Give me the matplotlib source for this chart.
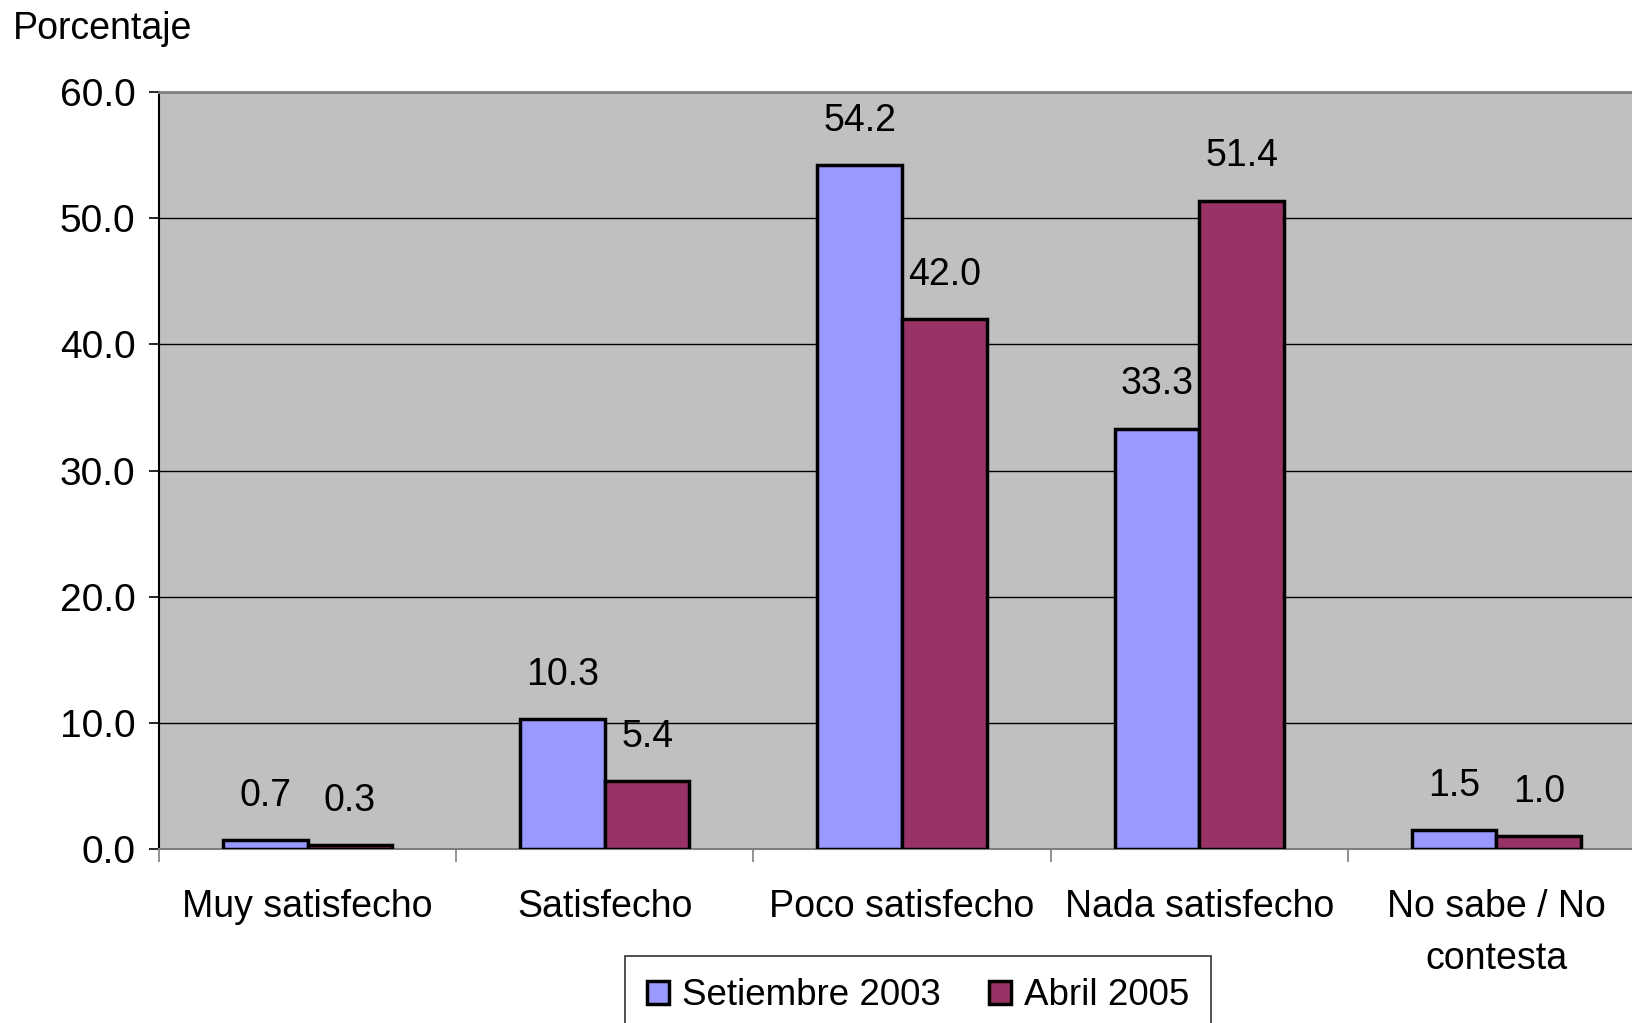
import matplotlib.pyplot as plt
import numpy as np

plt.rcParams['font.family'] = ['Liberation Sans', 'DejaVu Sans']

categories = ["Muy satisfecho", "Satisfecho", "Poco satisfecho",
              "Nada satisfecho", "No sabe / No\ncontesta"]
setiembre_2003 = [0.7, 10.3, 54.2, 33.3, 1.5]
abril_2005 = [0.3, 5.4, 42.0, 51.4, 1.0]
yticks = [0, 10, 20, 30, 40, 50, 60]

fig = plt.figure(figsize=(16.32, 10.23), dpi=100)
ax = fig.add_axes([0.0974, 0.170, 0.9106, 0.740])
ax.set_facecolor('#C0C0C0')

x = np.arange(len(categories))
w = 0.285
b1 = ax.bar(x - w / 2, setiembre_2003, w, color='#9999FF', edgecolor='black',
            linewidth=2.5, zorder=3, label='Setiembre 2003')
b2 = ax.bar(x + w / 2, abril_2005, w, color='#993366', edgecolor='black',
            linewidth=2.5, zorder=3, label='Abril 2005')

for bars, vals in ((b1, setiembre_2003), (b2, abril_2005)):
    for r, v in zip(bars, vals):
        ax.annotate(f"{v:.1f}", (r.get_x() + r.get_width() / 2, v),
                    xytext=(0, 32), textcoords='offset points',
                    ha='center', va='center', fontsize=27)

ax.set_ylim(0, 60)
ax.set_yticks(yticks)
ax.set_yticklabels([f"{t:.1f}" for t in yticks], fontsize=28)
ax.yaxis.grid(True, color='black', linewidth=1)
ax.set_axisbelow(True)

ax.set_xlim(-0.5, len(categories) - 0.5)
ax.set_xticks(x)
ax.set_xticklabels(categories, fontsize=27, linespacing=1.55)
ax.set_xticks(np.arange(-0.5, len(categories), 1), minor=True)
ax.tick_params(axis='x', which='major', length=0, pad=29)
ax.tick_params(axis='x', which='minor', length=9, color='#808080', width=1.2)
ax.tick_params(axis='y', length=7, width=1.2, pad=10)

for s in ('top', 'right'):
    ax.spines[s].set_color('#808080')
    ax.spines[s].set_linewidth(2)
ax.spines['bottom'].set_color('#808080')
ax.spines['bottom'].set_linewidth(1.5)
ax.spines['left'].set_color('black')
ax.spines['left'].set_linewidth(1.5)

fig.text(0.008, 0.972, "Porcentaje", fontsize=27, ha='left', va='center')

leg = fig.legend(loc='lower center', bbox_to_anchor=(0.5625, -0.03), ncol=2,
                 fontsize=26.5, frameon=True, fancybox=False, edgecolor='black',
                 handlelength=0.6, handleheight=0.6, handletextpad=0.35,
                 columnspacing=1.3, borderpad=0.6)
leg.get_frame().set_linewidth(1.2)

fig.savefig('out.png', dpi=100)
